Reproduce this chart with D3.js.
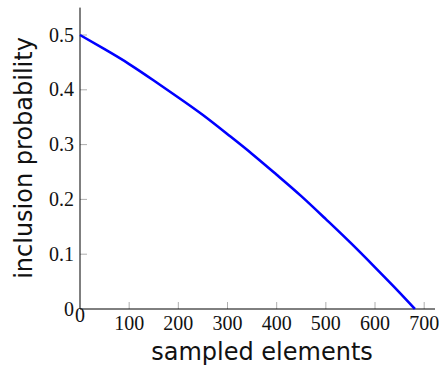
<!DOCTYPE html>
<html><head><meta charset="utf-8">
<script src="https://cdn.jsdelivr.net/npm/d3@7"></script>
<style>body{margin:0;background:#fff}</style>
</head><body>
<svg id="c" width="439" height="367"></svg>
<script>
const xValues = [0, 50, 100, 150, 200, 250, 300, 350, 400, 450, 500, 550, 600, 650, 681];
const yValues = [0.5, 0.474, 0.447, 0.417, 0.386, 0.354, 0.319, 0.283, 0.245, 0.206, 0.164, 0.121, 0.076, 0.030, 0];
const xTicks = [0, 100, 200, 300, 400, 500, 600, 700];
const yTicks = [0, 0.1, 0.2, 0.3, 0.4, 0.5];
const xLabel = "sampled elements";
const yLabel = "inclusion probability";

const svg = d3.select("#c");
const x = d3.scaleLinear().domain([0, 722]).range([80, 435]);
const y = d3.scaleLinear().domain([0, 0.55]).range([309, 7.6]);

// ticks (inward, gray)
const g = svg.append("g");
g.selectAll(".xt").data(xTicks.slice(1)).enter().append("line")
  .attr("x1", d => x(d)).attr("x2", d => x(d)).attr("y1", 309).attr("y2", 302)
  .attr("stroke", "#999").attr("stroke-width", 0.8);
g.selectAll(".yt").data(yTicks.slice(1)).enter().append("line")
  .attr("x1", 80).attr("x2", 87).attr("y1", d => y(d)).attr("y2", d => y(d))
  .attr("stroke", "#999").attr("stroke-width", 0.8);

// axis lines
svg.append("line").attr("x1", x(0)).attr("x2", x(722)).attr("y1", 309).attr("y2", 309).attr("stroke", "#000").attr("stroke-width", 1);
svg.append("line").attr("x1", 80).attr("x2", 80).attr("y1", 309).attr("y2", y(0.55)).attr("stroke", "#000").attr("stroke-width", 1);

// tick labels
const tf = "'Liberation Serif', 'DejaVu Serif', serif";
svg.selectAll(".xl").data(xTicks).enter().append("text")
  .attr("x", d => x(d)).attr("y", (d, i) => i === 0 ? 322 : 330)
  .attr("text-anchor", "middle").attr("font-family", tf).attr("font-size", 20).attr("fill", "#111")
  .text(d => d);
svg.selectAll(".yl").data(yTicks).enter().append("text")
  .attr("x", 74).attr("y", d => y(d) + 6.5)
  .attr("text-anchor", "end").attr("font-family", tf).attr("font-size", 20).attr("fill", "#111")
  .text(d => d === 0 ? "0" : d3.format(".1f")(d));

// curve
const pts = xValues.map((v, i) => [v, yValues[i]]);
svg.append("path").datum(pts)
  .attr("d", d3.line().x(d => x(d[0])).y(d => y(d[1])).curve(d3.curveNatural))
  .attr("fill", "none").attr("stroke", "#0000ff").attr("stroke-width", 2.6);

// axis titles
svg.append("text").attr("x", 262).attr("y", 360).attr("text-anchor", "middle")
  .attr("font-family", "'DejaVu Sans', sans-serif").attr("font-size", 24).attr("fill", "#111").text(xLabel);
svg.append("text").attr("transform", "translate(32,158) rotate(-90)").attr("text-anchor", "middle")
  .attr("font-family", "'DejaVu Sans', sans-serif").attr("font-size", 24).attr("fill", "#111").text(yLabel);
</script>
</body></html>
